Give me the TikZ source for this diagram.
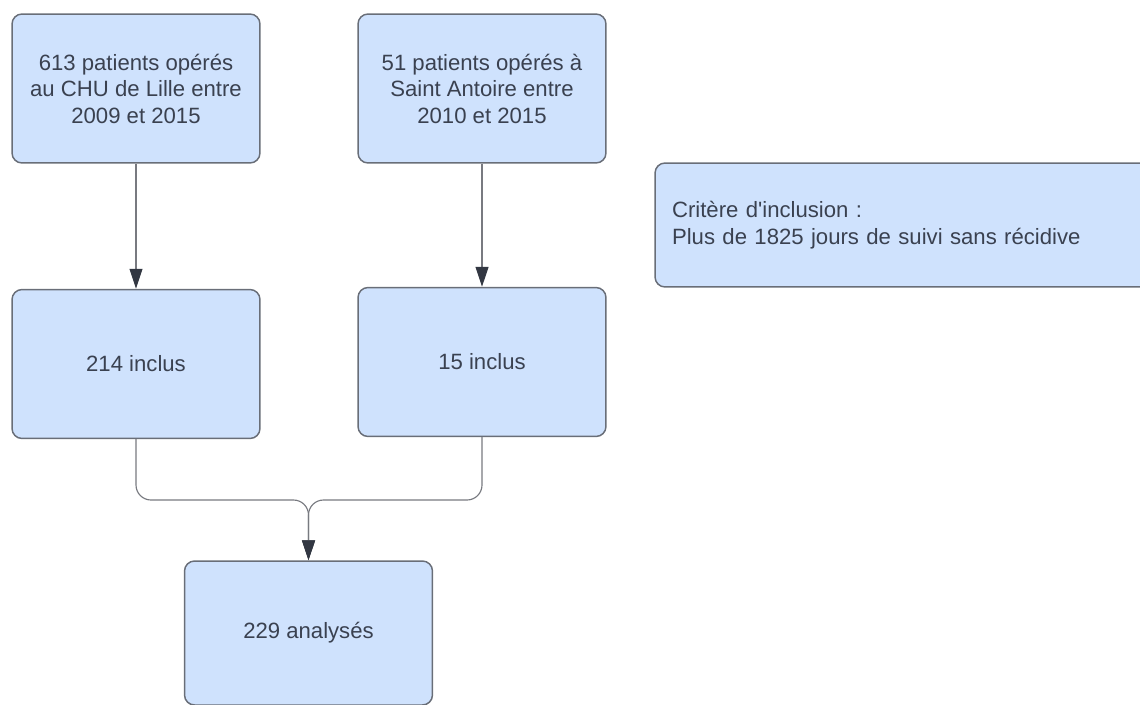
\documentclass[tikz,border=0pt]{standalone}
\usepackage{fontspec}
\setmainfont{Liberation Sans}[Ligatures=TeXOff]
\usetikzlibrary{arrows.meta}

\definecolor{boxfill}{RGB}{207,226,253}
\definecolor{boxline}{RGB}{105,110,120}
\definecolor{textgray}{RGB}{58,65,80}
\definecolor{linkgray}{RGB}{120,122,128}
\definecolor{tipdark}{RGB}{50,55,66}

\begin{document}
\begin{tikzpicture}[x=0.02cm,y=-0.02cm,
        flowbox/.style={draw=boxline,fill=boxfill,line width=0.85pt,rounded corners=0.2cm,
            minimum width=4.96cm,minimum height=2.98cm,inner sep=0pt,align=center,
            text=textgray,font=\fontsize{12.6}{15.1}\selectfont},
        link/.style={draw=linkgray,line width=0.65pt,
            -{Triangle[length=0.4cm,width=0.26cm,color=tipdark]}}]
        \useasboundingbox (0,0) rectangle (1140,704);
        % sources
        \node[flowbox] (lille) at (136,88.5) {613 patients opérés\\au CHU de Lille entre\\2009 et 2015};
        \node[flowbox] (antoine) at (482,88.5) {51 patients opérés à\\Saint Antoire entre\\2010 et 2015};
        \node[flowbox,minimum width=9.9cm,minimum height=2.48cm,text width=9.22cm,
            inner xsep=0.34cm,align=left] (critere) at (902.5,225)
            {Critère d'inclusion :\\Plus de 1825 jours de suivi sans récidive};
        % inclus
        \node[flowbox] (inclA) at (136,364) {214 inclus};
        \node[flowbox] (inclB) at (482,362) {15 inclus};
        \node[flowbox,minimum height=2.88cm] (total) at (308.5,633) {229 analysés};
        \coordinate (merge) at (308.5,500);
        \draw[link] (lille) -- (inclA);
        \draw[link] (antoine) -- (inclB);
        \draw[link,rounded corners=0.3cm] (inclA.south) |- (merge) -- (total.north);
        \draw[link,rounded corners=0.3cm] (inclB.south) |- (merge) -- (total.north);
    \end{tikzpicture}
\end{document}
